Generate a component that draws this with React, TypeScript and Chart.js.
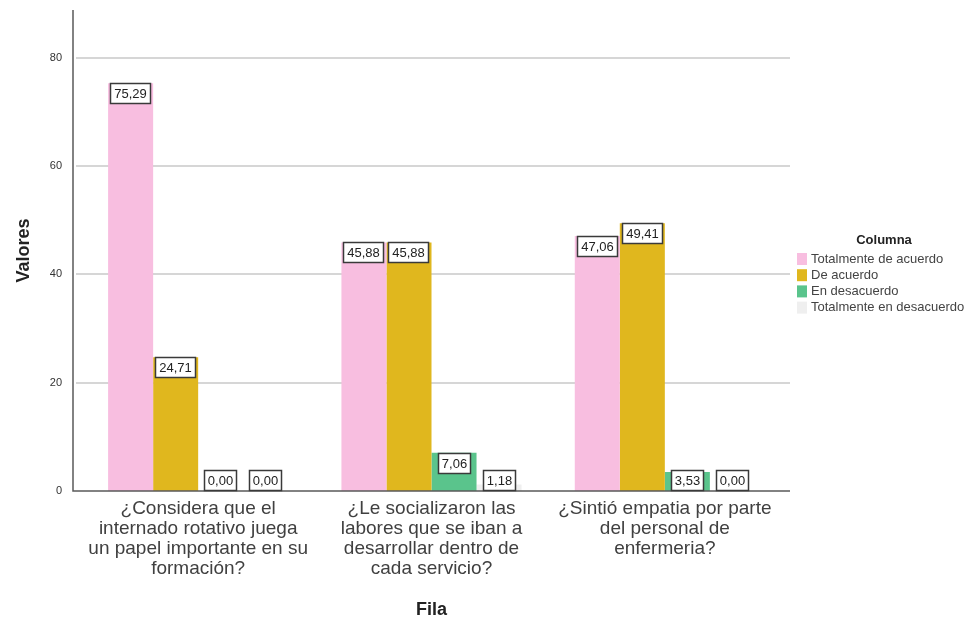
import React, { useEffect, useRef } from "react";
import { Chart, registerables } from "chart.js";

Chart.register(...registerables);

// ---- Data ----
const categories: string[][] = [
  ["¿Considera que el", "internado rotativo juega", "un papel importante en su", "formación?"],
  ["¿Le socializaron las", "labores que se iban a", "desarrollar dentro de", "cada servicio?"],
  ["¿Sintió empatia por parte", "del personal de", "enfermeria?"],
];
const seriesNames = ["Totalmente de acuerdo", "De acuerdo", "En desacuerdo", "Totalmente en desacuerdo"];
const totalmenteDeAcuerdo = [75.29, 45.88, 47.06];
const deAcuerdo = [24.71, 45.88, 49.41];
const enDesacuerdo = [0.0, 7.06, 3.53];
const totalmenteEnDesacuerdo = [0.0, 1.18, 0.0];
const yTicks = [0, 20, 40, 60, 80];
const yMax = 88.8;
const seriesColors = ["#F8BEE0", "#E0B71E", "#5AC48C", "#EFEFEF"];
const legendTitle = "Columna";
const xTitle = "Fila";
const yTitle = "Valores";

const FONT = '"Liberation Sans", Arial, Helvetica, sans-serif';

const spssPlugin = {
  id: "spssDecor",
  beforeDatasetsDraw(chart: any) {
    const { ctx, chartArea, scales } = chart;
    const y = scales.y;
    const l = chartArea.left - 8.5;
    const r = chartArea.right + 8.5;
    ctx.save();
    ctx.strokeStyle = "#d6d6d6";
    ctx.lineWidth = 2;
    for (const v of yTicks) {
      if (v === 0) continue;
      const py = Math.round(y.getPixelForValue(v));
      ctx.beginPath();
      ctx.moveTo(l + 3, py);
      ctx.lineTo(r, py);
      ctx.stroke();
    }
    ctx.restore();
  },
  afterDatasetsDraw(chart: any) {
    const { ctx, chartArea, scales } = chart;
    const y = scales.y;
    const l = chartArea.left - 8.5;
    const r = chartArea.right + 8.5;
    const base = y.getPixelForValue(0);
    ctx.save();
    // axis lines
    ctx.strokeStyle = "#5a5a5a";
    ctx.lineWidth = 1.5;
    ctx.beginPath();
    ctx.moveTo(l, chartArea.top);
    ctx.lineTo(l, base);
    ctx.lineTo(r, base);
    ctx.stroke();

    // value labels
    ctx.font = `13px ${FONT}`;
    chart.data.datasets.forEach((ds: any, i: number) => {
      const meta = chart.getDatasetMeta(i);
      meta.data.forEach((el: any, j: number) => {
        const v = ds.data[j] as number;
        const txt = v.toFixed(2).replace(".", ",");
        const tw = ctx.measureText(txt).width;
        const w = Math.round(tw + 8);
        const h = 21;
        const top = Math.round(Math.min(el.y, base - h));
        const x0 = Math.round(el.x - w / 2);
        ctx.fillStyle = "#ffffff";
        ctx.fillRect(x0, top, w, h);
        ctx.strokeStyle = "#3a3a3a";
        ctx.lineWidth = 1.5;
        ctx.strokeRect(x0 + 0.5, top + 0.5, w - 1, h - 1);
        ctx.fillStyle = "#222";
        ctx.textAlign = "center";
        ctx.textBaseline = "middle";
        ctx.fillText(txt, x0 + w / 2, top + h / 2 + 1);
      });
    });
    ctx.restore();
  },
  afterDraw(chart: any) {
    const { ctx } = chart;
    ctx.save();
    // legend
    ctx.fillStyle = "#222";
    ctx.font = `bold 13px ${FONT}`;
    ctx.textAlign = "center";
    ctx.textBaseline = "middle";
    ctx.fillText(legendTitle, 884, 240);
    ctx.font = `13px ${FONT}`;
    ctx.textAlign = "left";
    chart.data.datasets.forEach((ds: any, i: number) => {
      const cy = 259 + i * 16.2;
      ctx.fillStyle = ds.backgroundColor;
      ctx.fillRect(797, cy - 6, 10, 12);
      ctx.fillStyle = "#444";
      ctx.fillText(ds.label, 811, cy);
    });
    ctx.restore();
  },
};

export default function App() {
  const canvasRef = useRef<HTMLCanvasElement | null>(null);

  useEffect(() => {
    if (!canvasRef.current) return;
    const seriesValues = [totalmenteDeAcuerdo, deAcuerdo, enDesacuerdo, totalmenteEnDesacuerdo];
    const chart = new Chart(canvasRef.current, {
      type: "bar",
      data: {
        labels: categories,
        datasets: seriesNames.map((name, i) => ({
          label: name,
          data: seriesValues[i],
          backgroundColor: seriesColors[i],
          borderWidth: 0,
          barPercentage: 1,
          categoryPercentage: 0.772,
        })),
      },
      options: {
        responsive: false,
        animation: false,
        layout: { padding: { left: 0, right: 974 - 781.5, top: 10, bottom: 0 } },
        plugins: {
          legend: { display: false },
          tooltip: { enabled: false },
        },
        scales: {
          x: {
            grid: { display: false, drawTicks: false },
            border: { display: false },
            ticks: {
              font: { family: FONT, size: 19, lineHeight: "20px" },
              color: "#404040",
              padding: 8,
              maxRotation: 0,
              minRotation: 0,
              autoSkip: false,
            },
            title: {
              display: true,
              text: xTitle,
              color: "#222",
              font: { family: FONT, size: 18, weight: "bold", lineHeight: "22px" },
              padding: { top: 0, bottom: 0 },
            },
            afterFit: (s: any) => {
              s.height = 621 - 491;
              s.paddingLeft = 0;
              s.paddingRight = 0;
            },
          },
          y: {
            min: 0,
            max: yMax,
            afterBuildTicks: (s: any) => {
              s.ticks = yTicks.map((v) => ({ value: v }));
            },
            grid: { display: false, drawTicks: false },
            border: { display: false },
            ticks: {
              font: { family: FONT, size: 11 },
              color: "#333",
              padding: 19.5,
            },
            title: {
              display: true,
              text: yTitle,
              color: "#222",
              font: { family: FONT, size: 18, weight: "bold", lineHeight: "22px" },
              padding: { top: 13, bottom: 0 },
            },
            afterFit: (s: any) => {
              s.width = 81.5;
              s.paddingTop = 0;
              s.paddingBottom = 0;
            },
          },
        },
      } as any,
      plugins: [spssPlugin],
    });
    return () => chart.destroy();
  }, []);

  return (
    <div style={{ position: "absolute", left: 0, top: 0, width: 974, height: 621, background: "#fff" }}>
      <canvas ref={canvasRef} width={974} height={621} style={{ display: "block" }} />
    </div>
  );
}
